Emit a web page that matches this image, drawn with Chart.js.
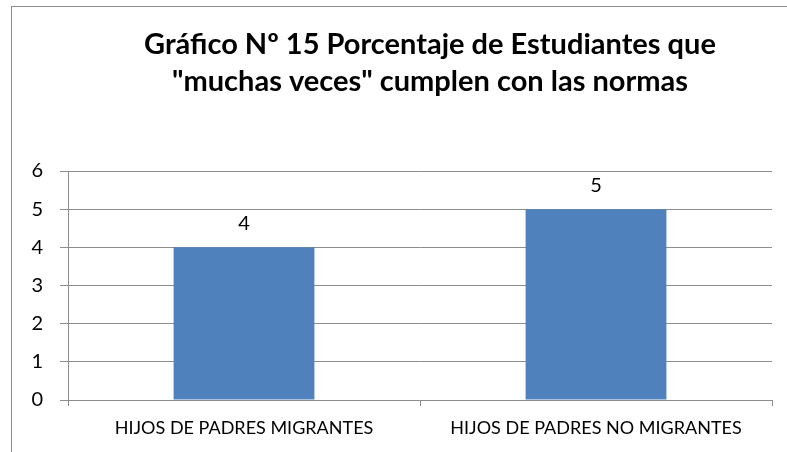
<!DOCTYPE html>
<html>
<head>
<meta charset="utf-8">
<script src="https://cdn.jsdelivr.net/npm/chart.js@4/dist/chart.umd.min.js"></script>
<style>
  html, body { margin: 0; padding: 0; background: #ffffff; overflow: hidden; width: 787px; height: 452px; }
  #frame { position: absolute; left: 11px; top: 6px; width: 900px; height: 500px; border-left: 1px solid #8c8c8c; border-top: 1px solid #8c8c8c; box-sizing: border-box; }
  #wrap { position: absolute; left: 11px; top: 6px; width: 838px; height: 446px; }
</style>
</head>
<body>
<div id="frame"></div>
<div id="wrap"><canvas id="c" width="838" height="446"></canvas></div>
<script>
const categories = ["HIJOS DE PADRES MIGRANTES", "HIJOS DE PADRES NO MIGRANTES"];
const values = [4, 5];
const yTicks = [0, 1, 2, 3, 4, 5, 6];
const titleLines = ["Gráfico Nº 15 Porcentaje de Estudiantes que", "\"muchas veces\" cumplen con las normas"];

const FONT = "Lato, 'Open Sans', sans-serif";

const titlePlugin = {
  id: 'titleDraw',
  afterDraw(chart) {
    const ctx = chart.ctx;
    ctx.save();
    ctx.fillStyle = '#000';
    ctx.font = "bold 29px " + FONT;
    ctx.textAlign = 'center';
    ctx.textBaseline = 'middle';
    const cx = chart.width / 2;
    ctx.fillText(titleLines[0], cx, 39);
    ctx.fillText(titleLines[1], cx, 76);
    ctx.restore();
  }
};

const labelPlugin = {
  id: 'barLabels',
  afterDatasetsDraw(chart) {
    const ctx = chart.ctx;
    const meta = chart.getDatasetMeta(0);
    ctx.save();
    ctx.fillStyle = '#000';
    ctx.font = "20px " + FONT;
    ctx.textAlign = 'center';
    ctx.textBaseline = 'middle';
    meta.data.forEach((bar, i) => {
      ctx.fillText(String(values[i]), bar.x, bar.y - 24);
    });
    ctx.restore();
  }
};

new Chart(document.getElementById('c'), {
  type: 'bar',
  data: {
    labels: categories,
    datasets: [{
      data: values,
      backgroundColor: '#4F81BD',
      borderWidth: 0,
      categoryPercentage: 0.4,
      barPercentage: 1.0
    }]
  },
  options: {
    responsive: false,
    animation: false,
    devicePixelRatio: 1,
    layout: { padding: { top: 165, right: 77, bottom: 2, left: 0 } },
    plugins: {
      legend: { display: false },
      title: { display: false },
      tooltip: { enabled: false }
    },
    scales: {
      x: {
        afterFit(scale) { scale.height = 50; },
        grid: { offset: true, drawOnChartArea: false, drawTicks: true, tickLength: 6, color: '#8c8c8c' },
        border: { color: '#8c8c8c', width: 1 },
        ticks: { color: '#000', font: { family: FONT, size: 18 }, padding: 11, maxRotation: 0, autoSkip: false }
      },
      y: {
        min: 0, max: 6,
        afterFit(scale) { scale.width = 57; },
        afterBuildTicks(scale) { scale.ticks = yTicks.map(v => ({ value: v })); },
        grid: { color: '#8c8c8c', tickLength: 8, drawTicks: true },
        border: { color: '#8c8c8c', width: 1 },
        ticks: { color: '#000', font: { family: FONT, size: 20 }, padding: 17 }
      }
    }
  },
  plugins: [titlePlugin, labelPlugin]
});
</script>
</body>
</html>
